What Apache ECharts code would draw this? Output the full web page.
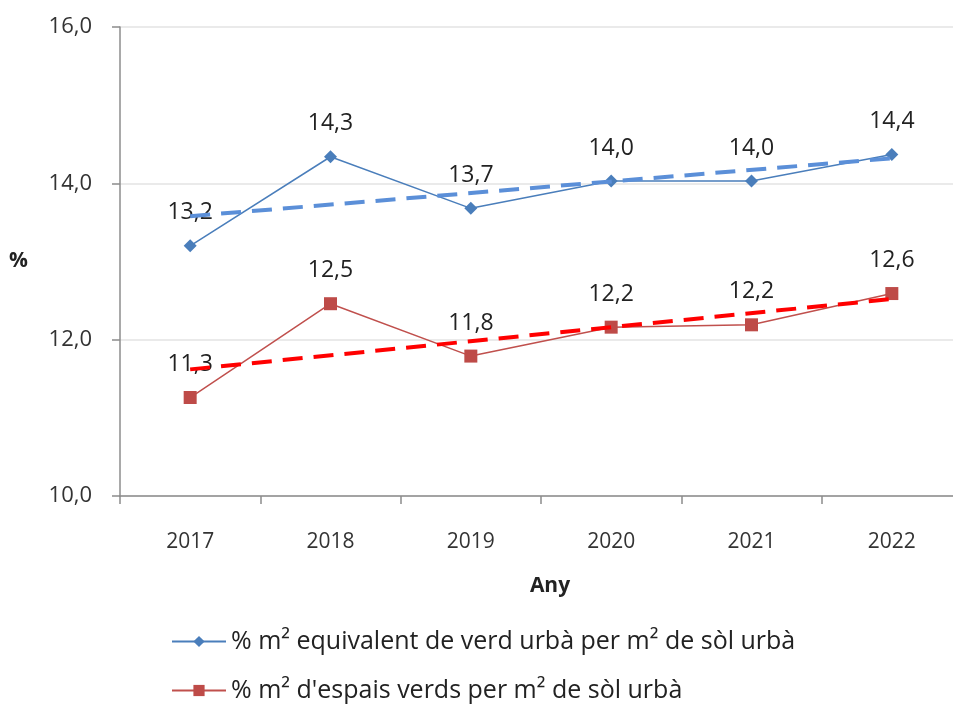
<!DOCTYPE html>
<html lang="ca">
<head>
    <meta charset="UTF-8">
    <title>Verd urbà</title>
    <script src="https://cdn.jsdelivr.net/npm/echarts@6/dist/echarts.min.js"></script>
</head>
<body style="margin:0;background:#fff;">

<div id="main" style="width: 953px;height:706px;"></div>

<script type="text/javascript">
    // dades llegides del gràfic
    var anys = ['2017', '2018', '2019', '2020', '2021', '2022'];
    var verdEquivalent = [13.2, 14.34, 13.68, 14.03, 14.03, 14.37];
    var espaisVerds = [11.26, 12.46, 11.79, 12.16, 12.19, 12.59];
    // línies de tendència (inici 2017, final 2022)
    var tendVerd = [13.58, 14.32];
    var tendEspais = [11.62, 12.52];
    var nomVerd = '% m\u00B2 equivalent de verd urbà per m\u00B2 de sòl urbà';
    var nomEspais = "% m\u00B2 d'espais verds per m\u00B2 de sòl urbà";

    var font = '"Open Sans", "Noto Sans", sans-serif';
    function coma(v) {
        return v.toFixed(1).replace('.', ',');
    }

    var myChart = echarts.init(document.getElementById('main'));

    function tendencia(vals, color) {
        return {
            silent: true,
            symbol: ['none', 'arrow'],
            symbolSize: [0, 22],
            label: {show: false},
            lineStyle: {color: color, width: 4, type: [20, 11]},
            data: [[
                {coord: [anys[0], vals[0]]},
                {coord: [anys[anys.length - 1], vals[1]]}
            ]]
        };
    }

    // una llegenda per fila
    function llegenda(nom, top) {
        return {
            left: 166,
            top: top,
            itemWidth: 54,
            itemHeight: 14,
            textStyle: {fontFamily: font, fontSize: 25, color: '#222'},
            data: [nom]
        };
    }

    myChart.setOption({
        animation: false,
        textStyle: {fontFamily: font},
        legend: [llegenda(nomVerd, 624), llegenda(nomEspais, 673)],
        grid: {
            left: 120,
            top: 27,
            width: 842,
            height: 469,
            outerBoundsMode: 'none'
        },
        xAxis: {
            type: 'category',
            data: anys,
            boundaryGap: true,
            name: 'Any',
            nameLocation: 'middle',
            nameGap: 80,
            nameTextStyle: {fontWeight: 'bold', fontSize: 21, color: '#222', padding: [0, 0, 0, 18]},
            axisLine: {lineStyle: {color: '#8c8c8c', width: 1.5}},
            axisTick: {show: true, length: 8, lineStyle: {color: '#8c8c8c', width: 1.5}},
            axisLabel: {fontSize: 21, color: '#333', margin: 36}
        },
        yAxis: {
            type: 'value',
            min: 10,
            max: 16,
            interval: 2,
            name: '%',
            nameLocation: 'middle',
            nameGap: 92,
            nameRotate: 0,
            nameTextStyle: {fontWeight: 'bold', fontSize: 21, color: '#222'},
            axisLine: {show: true, lineStyle: {color: '#8c8c8c', width: 1.5}},
            axisTick: {show: true, length: 8, lineStyle: {color: '#8c8c8c', width: 1.5}},
            axisLabel: {fontSize: 22, color: '#333', margin: 28, formatter: coma},
            splitLine: {lineStyle: {color: '#e3e3e3', width: 1.5}}
        },
        series: [{
            name: nomVerd,
            type: 'line',
            data: verdEquivalent,
            symbol: 'diamond',
            symbolSize: 13,
            color: '#4a7ebb',
            lineStyle: {width: 1.5, color: '#4a7ebb'},
            itemStyle: {color: '#4a7ebb'},
            label: {
                show: true,
                position: 'top',
                distance: 15,
                fontSize: 23,
                color: '#222',
                formatter: function (p) { return coma(p.value); }
            },
            markLine: tendencia(tendVerd, '#5b8fd8'),
            z: 3
        }, {
            name: nomEspais,
            type: 'line',
            data: espaisVerds,
            symbol: 'rect',
            symbolSize: 13,
            color: '#be4b48',
            lineStyle: {width: 1.5, color: '#c0504d'},
            itemStyle: {color: '#be4b48'},
            label: {
                show: true,
                position: 'top',
                distance: 15,
                fontSize: 23,
                color: '#222',
                formatter: function (p) { return coma(p.value); }
            },
            markLine: tendencia(tendEspais, '#ff0000'),
            z: 3
        }]
    });
</script>

</body>
</html>
